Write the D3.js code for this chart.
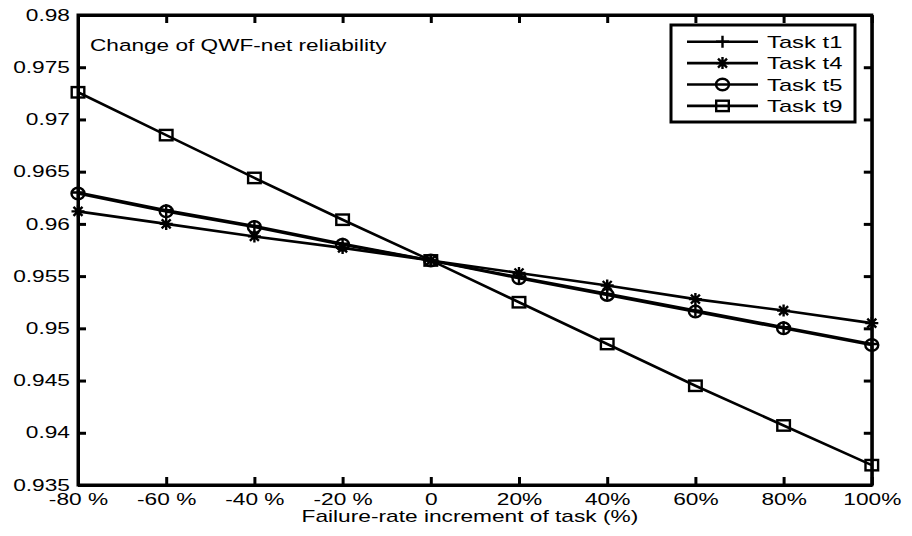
<!DOCTYPE html>
<html>
<head>
<meta charset="utf-8">
<script src="https://cdn.jsdelivr.net/npm/d3@7"></script>
<style>
  html, body { margin: 0; padding: 0; background: #fff; }
  svg { display: block; }
  text { font-family: "Liberation Sans", Arial, sans-serif; fill: #000; }
</style>
</head>
<body>
<svg id="chart" width="912" height="536"></svg>
<script>
// ---------- data ----------
const xValues = [-80, -60, -40, -20, 0, 20, 40, 60, 80, 100];
const xTickLabels = ["-80 %", "-60 %", "-40 %", "-20 %", "0", "20%", "40%", "60%", "80%", "100%"];
const yTickValues = [0.935, 0.94, 0.945, 0.95, 0.955, 0.96, 0.965, 0.97, 0.975, 0.98];
const yTickLabels = ["0.935", "0.94", "0.945", "0.95", "0.955", "0.96", "0.965", "0.97", "0.975", "0.98"];
const seriesNames = ["Task t1", "Task t4", "Task t5", "Task t9"];
const markerTypes = ["plus", "star", "circle", "square"];
const t1 = [0.9630, 0.9613, 0.9598, 0.9581, 0.9565, 0.9549, 0.9533, 0.9517, 0.9501, 0.9485];
const t4 = [0.9612, 0.9600, 0.9588, 0.9577, 0.9565, 0.9553, 0.9541, 0.9528, 0.9517, 0.9505];
const t5 = [0.9629, 0.9612, 0.9597, 0.9580, 0.9565, 0.9548, 0.9532, 0.9516, 0.9500, 0.9484];
const t9 = [0.9726, 0.9685, 0.9644, 0.9604, 0.9565, 0.9525, 0.9485, 0.9445, 0.9407, 0.9369];
const seriesValues = [t1, t4, t5, t9];
const annotation = "Change of QWF-net reliability";
const xTitle = "Failure-rate increment of task (%)";

// ---------- layout ----------
const W = 912, H = 536;
const L = 78, T = 15, R = 871.8, B = 485;
const SX = 1.42; // horizontal stretch of text seen in reference
const svg = d3.select("#chart");

const x = d3.scaleLinear().domain([-80, 100]).range([L, R]);
const y = d3.scaleLinear().domain([0.935, 0.98]).range([B, T]);

function stretch(sel, sx) {
  sel.each(function () {
    const t = d3.select(this);
    const tx = +t.attr("x") || 0, ty = +t.attr("y") || 0;
    t.attr("x", 0).attr("y", 0).attr("transform", `translate(${tx},${ty}) scale(${sx},1)`);
  });
}

// ---------- axes ----------
const axW = 3, tickLen = 8;
const gL = svg.append("g").attr("transform", `translate(${L},0)`)
  .call(d3.axisLeft(y).tickValues(yTickValues)
    .tickFormat((d, i) => yTickLabels[i]).tickSizeInner(-tickLen).tickSizeOuter(0).tickPadding(8));
const gR = svg.append("g").attr("transform", `translate(${R},0)`)
  .call(d3.axisRight(y).tickValues(yTickValues).tickFormat("").tickSizeInner(-tickLen).tickSizeOuter(0));
const gB = svg.append("g").attr("transform", `translate(0,${B})`)
  .call(d3.axisBottom(x).tickValues(xValues)
    .tickFormat((d, i) => xTickLabels[i]).tickSizeInner(-tickLen).tickSizeOuter(0).tickPadding(9));
const gT = svg.append("g").attr("transform", `translate(0,${T})`)
  .call(d3.axisTop(x).tickValues(xValues).tickFormat("").tickSizeInner(-tickLen).tickSizeOuter(0));

[gL, gR, gB, gT].forEach(g => {
  g.select(".domain").attr("stroke", "#000").attr("stroke-width", axW);
  g.selectAll(".tick line").attr("stroke", "#000").attr("stroke-width", axW);
});
gL.selectAll("text").attr("font-size", 16).attr("fill", "#000")
  .attr("font-family", "Liberation Sans, Arial, sans-serif");
gB.selectAll("text").attr("font-size", 16).attr("fill", "#000")
  .attr("font-family", "Liberation Sans, Arial, sans-serif").attr("dy", "0.71em");
stretch(gL.selectAll("text"), SX);
stretch(gB.selectAll("text"), SX);
// full box
svg.append("rect").attr("x", L).attr("y", T).attr("width", R - L).attr("height", B - T)
  .attr("fill", "none").attr("stroke", "#000").attr("stroke-width", axW);

// ---------- markers ----------
function drawMarker(g, type, cx, cy) {
  const sw = 2.4;
  if (type === "plus") {
    g.append("path").attr("d", `M${cx},${cy - 6}V${cy + 6}M${cx - 6.5},${cy}H${cx + 6.5}`)
      .attr("stroke", "#000").attr("stroke-width", sw).attr("fill", "none");
  } else if (type === "star") {
    const r = 6, d = 4.5;
    g.append("path").attr("d",
      `M${cx},${cy - r}V${cy + r}M${cx - r - 0.5},${cy}H${cx + r + 0.5}` +
      `M${cx - d},${cy - d}L${cx + d},${cy + d}M${cx - d},${cy + d}L${cx + d},${cy - d}`)
      .attr("stroke", "#000").attr("stroke-width", sw).attr("fill", "none");
  } else if (type === "circle") {
    g.append("ellipse").attr("cx", cx).attr("cy", cy).attr("rx", 6.5).attr("ry", 5.8)
      .attr("stroke", "#000").attr("stroke-width", sw).attr("fill", "none");
  } else if (type === "square") {
    g.append("rect").attr("x", cx - 6.3).attr("y", cy - 5.2).attr("width", 12.6).attr("height", 10.4)
      .attr("stroke", "#000").attr("stroke-width", sw).attr("fill", "none");
  }
}

// ---------- series ----------
const line = d3.line().x((d, i) => x(xValues[i])).y(d => y(d));
seriesValues.forEach((vals, s) => {
  const g = svg.append("g");
  g.append("path").datum(vals).attr("d", line)
    .attr("fill", "none").attr("stroke", "#000").attr("stroke-width", 2.6);
  vals.forEach((v, i) => drawMarker(g, markerTypes[s], x(xValues[i]), y(v)));
});

// ---------- annotation ----------
const ann = svg.append("text").attr("x", 90).attr("y", 51).attr("font-size", 17).text(annotation);
stretch(ann, 1.33);

// ---------- x title ----------
const xt = svg.append("text").attr("x", (L + R) / 2 - 5).attr("y", 522)
  .attr("text-anchor", "middle").attr("font-size", 16).text(xTitle);
stretch(xt, 1.42);

// ---------- legend ----------
const lg = svg.append("g");
lg.append("rect").attr("x", 671).attr("y", 25).attr("width", 184).attr("height", 97)
  .attr("fill", "#fff").attr("stroke", "#000").attr("stroke-width", 3);
seriesNames.forEach((name, s) => {
  const ry = 41.7 + s * 21.4;
  lg.append("line").attr("x1", 687).attr("x2", 758).attr("y1", ry).attr("y2", ry)
    .attr("stroke", "#000").attr("stroke-width", 2.6);
  drawMarker(lg, markerTypes[s], 722.5, ry);
  const t = lg.append("text").attr("x", 767).attr("y", ry + 6).attr("font-size", 17).text(name);
  stretch(t, 1.4);
});
</script>
</body>
</html>
